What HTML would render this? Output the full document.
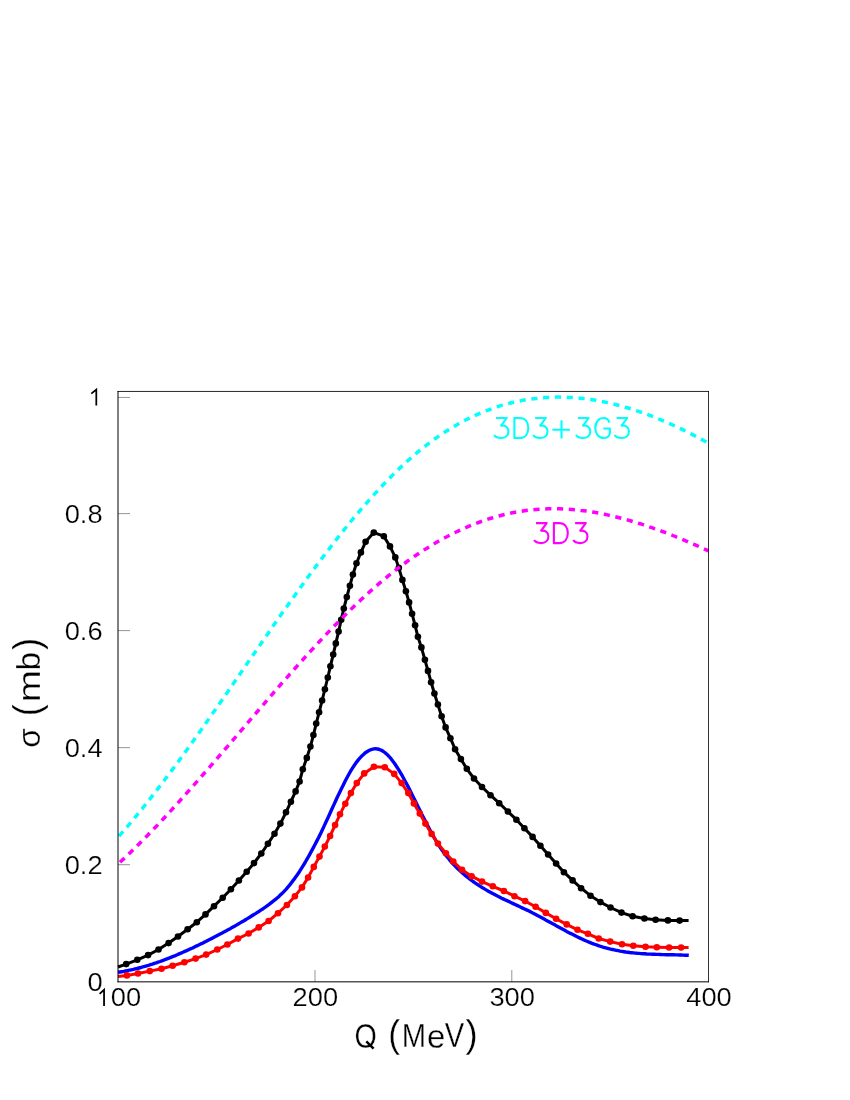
<!DOCTYPE html>
<html><head><meta charset="utf-8"><title>chart</title>
<style>html,body{margin:0;padding:0;background:#fff;}body{width:850px;height:1100px;position:relative;overflow:hidden;font-family:"Liberation Sans",sans-serif;}</style></head>
<body>
<svg width="850" height="1100" viewBox="0 0 850 1100" style="position:absolute;left:0;top:0;will-change:transform">
<rect width="850" height="1100" fill="#fff"/>
<path d="M118.0,972.3 L119.9,972.0 L121.8,971.7 L123.7,971.4 L125.6,971.0 L127.5,970.6 L129.5,970.2 L131.4,969.8 L133.3,969.4 L135.2,968.9 L137.1,968.5 L139.0,968.0 L140.9,967.5 L142.8,966.9 L144.7,966.4 L146.6,965.8 L148.5,965.3 L150.5,964.7 L152.4,964.1 L154.3,963.4 L156.2,962.8 L158.1,962.1 L160.0,961.5 L161.9,960.8 L163.8,960.1 L165.7,959.3 L167.6,958.6 L169.5,957.9 L171.5,957.1 L173.4,956.3 L175.3,955.6 L177.2,954.8 L179.1,953.9 L181.0,953.1 L182.9,952.3 L184.8,951.4 L186.7,950.6 L188.6,949.7 L190.5,948.8 L192.5,948.0 L194.4,947.1 L196.3,946.1 L198.2,945.2 L200.1,944.3 L202.0,943.4 L203.9,942.4 L205.8,941.5 L207.7,940.5 L209.6,939.5 L211.5,938.6 L213.5,937.6 L215.4,936.6 L217.3,935.6 L219.2,934.6 L221.1,933.6 L223.0,932.5 L224.9,931.5 L226.8,930.5 L228.7,929.4 L230.6,928.4 L232.5,927.3 L234.5,926.2 L236.4,925.1 L238.3,924.0 L240.2,922.9 L242.1,921.8 L244.0,920.7 L245.9,919.5 L247.8,918.4 L249.7,917.2 L251.6,916.0 L253.5,914.8 L255.5,913.6 L257.4,912.4 L259.3,911.2 L261.2,909.9 L263.1,908.7 L265.0,907.4 L266.9,906.0 L268.8,904.7 L270.7,903.2 L272.6,901.7 L274.5,900.2 L276.5,898.6 L278.4,896.9 L280.3,895.1 L282.2,893.3 L284.1,891.3 L286.0,889.3 L287.9,887.1 L289.8,884.8 L291.7,882.4 L293.6,879.9 L295.5,877.2 L297.5,874.5 L299.4,871.7 L301.3,868.7 L303.2,865.6 L305.1,862.5 L307.0,859.2 L308.9,855.9 L310.8,852.4 L312.7,848.9 L314.6,845.3 L316.5,841.6 L318.5,837.8 L320.4,833.9 L322.3,830.0 L324.2,825.9 L326.1,821.8 L328.0,817.7 L329.9,813.5 L331.8,809.3 L333.7,805.1 L335.6,801.0 L337.5,796.8 L339.5,792.8 L341.4,788.8 L343.3,784.9 L345.2,781.1 L347.1,777.5 L349.0,774.0 L350.9,770.7 L352.8,767.7 L354.7,764.8 L356.6,762.1 L358.5,759.6 L360.5,757.4 L362.4,755.4 L364.3,753.7 L366.2,752.2 L368.1,751.0 L370.0,750.0 L371.9,749.3 L373.8,748.9 L375.7,748.8 L377.6,749.0 L379.5,749.5 L381.5,750.3 L383.4,751.5 L385.3,752.9 L387.2,754.6 L389.1,756.5 L391.0,758.7 L392.9,761.2 L394.8,763.8 L396.7,766.7 L398.6,769.7 L400.5,772.9 L402.5,776.2 L404.4,779.7 L406.3,783.2 L408.2,786.9 L410.1,790.6 L412.0,794.4 L413.9,798.2 L415.8,802.1 L417.7,806.0 L419.6,809.8 L421.5,813.7 L423.5,817.5 L425.4,821.3 L427.3,825.0 L429.2,828.6 L431.1,832.2 L433.0,835.6 L434.9,838.9 L436.8,842.1 L438.7,845.1 L440.6,848.0 L442.5,850.8 L444.5,853.4 L446.4,855.9 L448.3,858.3 L450.2,860.6 L452.1,862.8 L454.0,864.9 L455.9,866.9 L457.8,868.8 L459.7,870.6 L461.6,872.3 L463.5,874.0 L465.5,875.6 L467.4,877.2 L469.3,878.6 L471.2,880.1 L473.1,881.5 L475.0,882.8 L476.9,884.1 L478.8,885.4 L480.7,886.6 L482.6,887.8 L484.5,888.9 L486.5,890.1 L488.4,891.2 L490.3,892.2 L492.2,893.3 L494.1,894.3 L496.0,895.3 L497.9,896.3 L499.8,897.2 L501.7,898.2 L503.6,899.1 L505.5,900.0 L507.5,900.9 L509.4,901.8 L511.3,902.7 L513.2,903.6 L515.1,904.5 L517.0,905.4 L518.9,906.3 L520.8,907.2 L522.7,908.1 L524.6,909.0 L526.5,909.9 L528.5,910.8 L530.4,911.8 L532.3,912.8 L534.2,913.7 L536.1,914.7 L538.0,915.8 L539.9,916.8 L541.8,917.8 L543.7,918.8 L545.6,919.9 L547.5,920.9 L549.5,922.0 L551.4,923.0 L553.3,924.1 L555.2,925.1 L557.1,926.2 L559.0,927.2 L560.9,928.3 L562.8,929.3 L564.7,930.3 L566.6,931.4 L568.6,932.4 L570.5,933.4 L572.4,934.3 L574.3,935.3 L576.2,936.3 L578.1,937.2 L580.0,938.1 L581.9,939.0 L583.8,939.9 L585.7,940.7 L587.6,941.5 L589.6,942.3 L591.5,943.1 L593.4,943.8 L595.3,944.5 L597.2,945.2 L599.1,945.9 L601.0,946.5 L602.9,947.1 L604.8,947.6 L606.7,948.1 L608.6,948.6 L610.6,949.1 L612.5,949.5 L614.4,949.9 L616.3,950.3 L618.2,950.7 L620.1,951.1 L622.0,951.4 L623.9,951.7 L625.8,952.0 L627.7,952.2 L629.6,952.5 L631.6,952.7 L633.5,952.9 L635.4,953.1 L637.3,953.3 L639.2,953.4 L641.1,953.6 L643.0,953.7 L644.9,953.8 L646.8,954.0 L648.7,954.1 L650.6,954.1 L652.6,954.2 L654.5,954.3 L656.4,954.4 L658.3,954.4 L660.2,954.5 L662.1,954.6 L664.0,954.6 L665.9,954.7 L667.8,954.7 L669.7,954.7 L671.6,954.8 L673.6,954.8 L675.5,954.9 L677.4,954.9 L679.3,955.0 L681.2,955.0 L683.1,955.1 L685.0,955.2 L686.9,955.2 L688.8,955.3" fill="none" stroke="#0000ff" stroke-width="3.4" stroke-linejoin="round"/>
<path d="M118.0,967.0 L126.2,964.1 L137.3,959.8 L148.1,955.1 L158.5,949.5 L168.6,943.1 L178.0,936.5 L187.6,929.2 L196.8,922.2 L205.5,914.4 L214.0,906.2 L222.7,897.7 L230.9,889.2 L238.9,880.5 L246.7,871.8 L254.0,863.1 L261.3,853.5 L267.9,843.8 L274.5,833.7 L280.4,823.6 L286.0,812.3 L290.9,801.7 L295.6,791.4 L299.6,781.5 L302.8,769.2 L306.8,757.9 L310.4,746.6 L313.4,735.1 L316.2,723.6 L319.1,712.3 L322.1,700.5 L324.9,689.2 L327.8,677.5 L330.4,666.2 L333.2,654.6 L335.8,643.4 L338.6,631.6 L341.2,619.8 L343.8,608.5 L346.8,597.0 L349.9,585.7 L352.9,574.5 L356.5,563.2 L360.9,552.4 L365.6,541.8 L373.8,532.6 L383.8,536.2 L390.0,546.4 L395.3,557.4 L398.8,567.9 L402.4,579.9 L405.9,591.2 L409.1,602.4 L412.1,613.8 L415.1,625.3 L417.9,636.8 L421.4,647.4 L424.9,659.8 L428.0,670.9 L431.1,682.2 L434.4,693.5 L437.9,704.5 L441.6,716.3 L445.6,727.4 L450.4,738.2 L455.1,749.2 L460.9,759.1 L466.8,768.8 L474.0,778.5 L482.0,787.0 L490.5,795.2 L499.2,803.2 L507.9,811.5 L516.4,819.7 L524.4,828.2 L532.6,836.9 L540.4,845.8 L548.1,854.5 L556.1,863.5 L563.9,872.2 L572.6,880.4 L581.1,888.2 L590.5,895.7 L600.4,902.1 L610.5,907.5 L621.5,912.6 L632.6,916.2 L644.4,918.5 L655.6,919.7 L667.9,920.4 L679.6,920.6 L688.6,920.6" fill="none" stroke="#000" stroke-width="3.0" stroke-linejoin="round"/>
<g fill="#000"><circle cx="126.2" cy="964.1" r="3.3"/><circle cx="137.3" cy="959.8" r="3.3"/><circle cx="148.1" cy="955.1" r="3.3"/><circle cx="158.5" cy="949.5" r="3.3"/><circle cx="168.6" cy="943.1" r="3.3"/><circle cx="178.0" cy="936.5" r="3.3"/><circle cx="187.6" cy="929.2" r="3.3"/><circle cx="196.8" cy="922.2" r="3.3"/><circle cx="205.5" cy="914.4" r="3.3"/><circle cx="214.0" cy="906.2" r="3.3"/><circle cx="222.7" cy="897.7" r="3.3"/><circle cx="230.9" cy="889.2" r="3.3"/><circle cx="238.9" cy="880.5" r="3.3"/><circle cx="246.7" cy="871.8" r="3.3"/><circle cx="254.0" cy="863.1" r="3.3"/><circle cx="261.3" cy="853.5" r="3.3"/><circle cx="267.9" cy="843.8" r="3.3"/><circle cx="274.5" cy="833.7" r="3.3"/><circle cx="280.4" cy="823.6" r="3.3"/><circle cx="286.0" cy="812.3" r="3.3"/><circle cx="290.9" cy="801.7" r="3.3"/><circle cx="295.6" cy="791.4" r="3.3"/><circle cx="299.6" cy="781.5" r="3.3"/><circle cx="302.8" cy="769.2" r="3.3"/><circle cx="306.8" cy="757.9" r="3.3"/><circle cx="310.4" cy="746.6" r="3.3"/><circle cx="313.4" cy="735.1" r="3.3"/><circle cx="316.2" cy="723.6" r="3.3"/><circle cx="319.1" cy="712.3" r="3.3"/><circle cx="322.1" cy="700.5" r="3.3"/><circle cx="324.9" cy="689.2" r="3.3"/><circle cx="327.8" cy="677.5" r="3.3"/><circle cx="330.4" cy="666.2" r="3.3"/><circle cx="333.2" cy="654.6" r="3.3"/><circle cx="335.8" cy="643.4" r="3.3"/><circle cx="338.6" cy="631.6" r="3.3"/><circle cx="341.2" cy="619.8" r="3.3"/><circle cx="343.8" cy="608.5" r="3.3"/><circle cx="346.8" cy="597.0" r="3.3"/><circle cx="349.9" cy="585.7" r="3.3"/><circle cx="352.9" cy="574.5" r="3.3"/><circle cx="356.5" cy="563.2" r="3.3"/><circle cx="360.9" cy="552.4" r="3.3"/><circle cx="365.6" cy="541.8" r="3.3"/><circle cx="373.8" cy="532.6" r="3.3"/><circle cx="383.8" cy="536.2" r="3.3"/><circle cx="390.0" cy="546.4" r="3.3"/><circle cx="395.3" cy="557.4" r="3.3"/><circle cx="398.8" cy="567.9" r="3.3"/><circle cx="402.4" cy="579.9" r="3.3"/><circle cx="405.9" cy="591.2" r="3.3"/><circle cx="409.1" cy="602.4" r="3.3"/><circle cx="412.1" cy="613.8" r="3.3"/><circle cx="415.1" cy="625.3" r="3.3"/><circle cx="417.9" cy="636.8" r="3.3"/><circle cx="421.4" cy="647.4" r="3.3"/><circle cx="424.9" cy="659.8" r="3.3"/><circle cx="428.0" cy="670.9" r="3.3"/><circle cx="431.1" cy="682.2" r="3.3"/><circle cx="434.4" cy="693.5" r="3.3"/><circle cx="437.9" cy="704.5" r="3.3"/><circle cx="441.6" cy="716.3" r="3.3"/><circle cx="445.6" cy="727.4" r="3.3"/><circle cx="450.4" cy="738.2" r="3.3"/><circle cx="455.1" cy="749.2" r="3.3"/><circle cx="460.9" cy="759.1" r="3.3"/><circle cx="466.8" cy="768.8" r="3.3"/><circle cx="474.0" cy="778.5" r="3.3"/><circle cx="482.0" cy="787.0" r="3.3"/><circle cx="490.5" cy="795.2" r="3.3"/><circle cx="499.2" cy="803.2" r="3.3"/><circle cx="507.9" cy="811.5" r="3.3"/><circle cx="516.4" cy="819.7" r="3.3"/><circle cx="524.4" cy="828.2" r="3.3"/><circle cx="532.6" cy="836.9" r="3.3"/><circle cx="540.4" cy="845.8" r="3.3"/><circle cx="548.1" cy="854.5" r="3.3"/><circle cx="556.1" cy="863.5" r="3.3"/><circle cx="563.9" cy="872.2" r="3.3"/><circle cx="572.6" cy="880.4" r="3.3"/><circle cx="581.1" cy="888.2" r="3.3"/><circle cx="590.5" cy="895.7" r="3.3"/><circle cx="600.4" cy="902.1" r="3.3"/><circle cx="610.5" cy="907.5" r="3.3"/><circle cx="621.5" cy="912.6" r="3.3"/><circle cx="632.6" cy="916.2" r="3.3"/><circle cx="644.4" cy="918.5" r="3.3"/><circle cx="655.6" cy="919.7" r="3.3"/><circle cx="667.9" cy="920.4" r="3.3"/><circle cx="679.6" cy="920.6" r="3.3"/></g>
<path d="M118.0,976.5 L126.9,975.4 L138.0,973.5 L149.8,971.1 L161.5,968.8 L172.6,965.7 L184.4,962.2 L195.6,958.6 L206.2,954.6 L217.3,949.5 L227.4,944.5 L238.0,938.6 L248.6,933.5 L258.7,927.4 L268.6,921.0 L278.0,913.2 L286.9,905.0 L294.9,896.3 L302.0,887.4 L308.1,877.5 L313.8,866.9 L319.5,856.6 L324.8,846.6 L330.1,836.0 L335.1,825.1 L340.0,814.3 L345.3,803.7 L350.9,793.1 L356.8,783.1 L364.2,773.4 L373.9,766.8 L384.8,767.2 L394.2,773.9 L401.6,783.1 L408.3,793.1 L413.9,803.4 L419.8,813.6 L425.4,823.6 L431.6,833.9 L437.9,843.6 L445.9,853.3 L453.3,861.6 L462.0,869.8 L471.6,876.2 L482.0,881.6 L492.8,886.3 L503.9,891.0 L514.5,896.2 L525.1,901.1 L535.6,906.8 L545.8,912.9 L556.1,918.8 L566.7,924.4 L577.5,929.8 L587.9,933.8 L598.7,938.5 L610.2,941.6 L622.0,944.2 L633.3,945.8 L645.5,946.8 L656.8,947.2 L669.1,947.5 L681.1,947.5 L688.6,947.5" fill="none" stroke="#ff0000" stroke-width="3.0" stroke-linejoin="round"/>
<g fill="#ff0000"><circle cx="126.9" cy="975.4" r="3.3"/><circle cx="138.0" cy="973.5" r="3.3"/><circle cx="149.8" cy="971.1" r="3.3"/><circle cx="161.5" cy="968.8" r="3.3"/><circle cx="172.6" cy="965.7" r="3.3"/><circle cx="184.4" cy="962.2" r="3.3"/><circle cx="195.6" cy="958.6" r="3.3"/><circle cx="206.2" cy="954.6" r="3.3"/><circle cx="217.3" cy="949.5" r="3.3"/><circle cx="227.4" cy="944.5" r="3.3"/><circle cx="238.0" cy="938.6" r="3.3"/><circle cx="248.6" cy="933.5" r="3.3"/><circle cx="258.7" cy="927.4" r="3.3"/><circle cx="268.6" cy="921.0" r="3.3"/><circle cx="278.0" cy="913.2" r="3.3"/><circle cx="286.9" cy="905.0" r="3.3"/><circle cx="294.9" cy="896.3" r="3.3"/><circle cx="302.0" cy="887.4" r="3.3"/><circle cx="308.1" cy="877.5" r="3.3"/><circle cx="313.8" cy="866.9" r="3.3"/><circle cx="319.5" cy="856.6" r="3.3"/><circle cx="324.8" cy="846.6" r="3.3"/><circle cx="330.1" cy="836.0" r="3.3"/><circle cx="335.1" cy="825.1" r="3.3"/><circle cx="340.0" cy="814.3" r="3.3"/><circle cx="345.3" cy="803.7" r="3.3"/><circle cx="350.9" cy="793.1" r="3.3"/><circle cx="356.8" cy="783.1" r="3.3"/><circle cx="364.2" cy="773.4" r="3.3"/><circle cx="373.9" cy="766.8" r="3.3"/><circle cx="384.8" cy="767.2" r="3.3"/><circle cx="394.2" cy="773.9" r="3.3"/><circle cx="401.6" cy="783.1" r="3.3"/><circle cx="408.3" cy="793.1" r="3.3"/><circle cx="413.9" cy="803.4" r="3.3"/><circle cx="419.8" cy="813.6" r="3.3"/><circle cx="425.4" cy="823.6" r="3.3"/><circle cx="431.6" cy="833.9" r="3.3"/><circle cx="437.9" cy="843.6" r="3.3"/><circle cx="445.9" cy="853.3" r="3.3"/><circle cx="453.3" cy="861.6" r="3.3"/><circle cx="462.0" cy="869.8" r="3.3"/><circle cx="471.6" cy="876.2" r="3.3"/><circle cx="482.0" cy="881.6" r="3.3"/><circle cx="492.8" cy="886.3" r="3.3"/><circle cx="503.9" cy="891.0" r="3.3"/><circle cx="514.5" cy="896.2" r="3.3"/><circle cx="525.1" cy="901.1" r="3.3"/><circle cx="535.6" cy="906.8" r="3.3"/><circle cx="545.8" cy="912.9" r="3.3"/><circle cx="556.1" cy="918.8" r="3.3"/><circle cx="566.7" cy="924.4" r="3.3"/><circle cx="577.5" cy="929.8" r="3.3"/><circle cx="587.9" cy="933.8" r="3.3"/><circle cx="598.7" cy="938.5" r="3.3"/><circle cx="610.2" cy="941.6" r="3.3"/><circle cx="622.0" cy="944.2" r="3.3"/><circle cx="633.3" cy="945.8" r="3.3"/><circle cx="645.5" cy="946.8" r="3.3"/><circle cx="656.8" cy="947.2" r="3.3"/><circle cx="669.1" cy="947.5" r="3.3"/><circle cx="681.1" cy="947.5" r="3.3"/></g>
<path d="M118.0,837.3 L121.0,833.9 L123.9,830.5 L126.9,827.1 L129.9,823.6 L132.8,820.0 L135.8,816.5 L138.8,812.9 L141.7,809.2 L144.7,805.5 L147.7,801.8 L150.6,798.1 L153.6,794.3 L156.6,790.4 L159.5,786.6 L162.5,782.7 L165.5,778.8 L168.4,774.9 L171.4,770.9 L174.4,766.9 L177.3,762.9 L180.3,758.8 L183.3,754.8 L186.2,750.7 L189.2,746.6 L192.2,742.4 L195.1,738.3 L198.1,734.1 L201.1,729.9 L204.0,725.7 L207.0,721.5 L210.0,717.3 L212.9,713.0 L215.9,708.8 L218.9,704.5 L221.8,700.3 L224.8,696.0 L227.8,691.7 L230.7,687.4 L233.7,683.1 L236.7,678.8 L239.6,674.5 L242.6,670.2 L245.6,665.9 L248.5,661.6 L251.5,657.3 L254.5,653.0 L257.4,648.7 L260.4,644.4 L263.4,640.1 L266.3,635.9 L269.3,631.6 L272.2,627.3 L275.2,623.1 L278.2,618.8 L281.1,614.6 L284.1,610.4 L287.1,606.2 L290.0,602.0 L293.0,597.9 L296.0,593.7 L298.9,589.6 L301.9,585.5 L304.9,581.4 L307.8,577.3 L310.8,573.3 L313.8,569.3 L316.7,565.3 L319.7,561.3 L322.7,557.4 L325.6,553.4 L328.6,549.6 L331.6,545.7 L334.5,541.9 L337.5,538.1 L340.5,534.4 L343.4,530.6 L346.4,527.0 L349.4,523.3 L352.3,519.7 L355.3,516.1 L358.3,512.6 L361.2,509.1 L364.2,505.7 L367.2,502.3 L370.1,498.9 L373.1,495.6 L376.1,492.4 L379.0,489.2 L382.0,486.0 L385.0,482.9 L387.9,479.8 L390.9,476.8 L393.9,473.8 L396.8,470.9 L399.8,468.1 L402.8,465.3 L405.7,462.6 L408.7,459.9 L411.7,457.3 L414.6,454.7 L417.6,452.2 L420.6,449.8 L423.5,447.4 L426.5,445.1 L429.5,442.8 L432.4,440.6 L435.4,438.5 L438.4,436.4 L441.3,434.4 L444.3,432.5 L447.3,430.6 L450.2,428.7 L453.2,426.9 L456.2,425.2 L459.1,423.5 L462.1,421.9 L465.1,420.3 L468.0,418.8 L471.0,417.4 L474.0,416.0 L476.9,414.6 L479.9,413.3 L482.9,412.1 L485.8,410.9 L488.8,409.8 L491.8,408.7 L494.7,407.6 L497.7,406.7 L500.7,405.7 L503.6,404.8 L506.6,404.0 L509.6,403.2 L512.5,402.5 L515.5,401.8 L518.5,401.2 L521.4,400.6 L524.4,400.0 L527.4,399.6 L530.3,399.1 L533.3,398.7 L536.3,398.4 L539.2,398.0 L542.2,397.8 L545.2,397.6 L548.1,397.4 L551.1,397.3 L554.1,397.2 L557.0,397.1 L560.0,397.1 L562.9,397.2 L565.9,397.2 L568.9,397.4 L571.8,397.5 L574.8,397.7 L577.8,398.0 L580.7,398.3 L583.7,398.6 L586.7,399.0 L589.6,399.4 L592.6,399.8 L595.6,400.3 L598.5,400.8 L601.5,401.4 L604.5,402.0 L607.4,402.6 L610.4,403.3 L613.4,404.0 L616.3,404.7 L619.3,405.5 L622.3,406.3 L625.2,407.2 L628.2,408.0 L631.2,408.9 L634.1,409.9 L637.1,410.9 L640.1,411.9 L643.0,412.9 L646.0,414.0 L649.0,415.1 L651.9,416.2 L654.9,417.4 L657.9,418.6 L660.8,419.8 L663.8,421.1 L666.8,422.4 L669.7,423.7 L672.7,425.0 L675.7,426.4 L678.6,427.8 L681.6,429.2 L684.6,430.6 L687.5,432.1 L690.5,433.6 L693.5,435.1 L696.4,436.7 L699.4,438.3 L702.4,439.9 L705.3,441.5 L708.3,443.1" fill="none" stroke="#00ffff" stroke-width="3.5" stroke-dasharray="6.2 5.62" stroke-dashoffset="10.3"/>
<path d="M118.0,864.1 L121.0,861.3 L123.9,858.6 L126.9,855.7 L129.9,852.9 L132.8,850.0 L135.8,847.1 L138.8,844.2 L141.7,841.2 L144.7,838.2 L147.7,835.2 L150.6,832.1 L153.6,829.1 L156.6,826.0 L159.5,822.8 L162.5,819.7 L165.5,816.5 L168.4,813.3 L171.4,810.1 L174.4,806.8 L177.3,803.6 L180.3,800.3 L183.3,797.0 L186.2,793.7 L189.2,790.4 L192.2,787.0 L195.1,783.7 L198.1,780.3 L201.1,776.9 L204.0,773.5 L207.0,770.1 L210.0,766.7 L212.9,763.3 L215.9,759.9 L218.9,756.4 L221.8,753.0 L224.8,749.5 L227.8,746.1 L230.7,742.6 L233.7,739.2 L236.7,735.7 L239.6,732.2 L242.6,728.8 L245.6,725.3 L248.5,721.8 L251.5,718.4 L254.5,714.9 L257.4,711.5 L260.4,708.0 L263.4,704.6 L266.3,701.1 L269.3,697.7 L272.2,694.3 L275.2,690.8 L278.2,687.4 L281.1,684.0 L284.1,680.7 L287.1,677.3 L290.0,673.9 L293.0,670.6 L296.0,667.3 L298.9,663.9 L301.9,660.7 L304.9,657.4 L307.8,654.1 L310.8,650.9 L313.8,647.7 L316.7,644.5 L319.7,641.3 L322.7,638.1 L325.6,635.0 L328.6,631.9 L331.6,628.8 L334.5,625.8 L337.5,622.7 L340.5,619.7 L343.4,616.8 L346.4,613.8 L349.4,610.9 L352.3,608.0 L355.3,605.2 L358.3,602.4 L361.2,599.6 L364.2,596.8 L367.2,594.1 L370.1,591.4 L373.1,588.8 L376.1,586.2 L379.0,583.6 L382.0,581.1 L385.0,578.7 L387.9,576.2 L390.9,573.8 L393.9,571.5 L396.8,569.2 L399.8,566.9 L402.8,564.7 L405.7,562.5 L408.7,560.3 L411.7,558.3 L414.6,556.2 L417.6,554.2 L420.6,552.2 L423.5,550.3 L426.5,548.4 L429.5,546.6 L432.4,544.8 L435.4,543.0 L438.4,541.3 L441.3,539.7 L444.3,538.0 L447.3,536.5 L450.2,534.9 L453.2,533.4 L456.2,532.0 L459.1,530.6 L462.1,529.2 L465.1,527.9 L468.0,526.6 L471.0,525.4 L474.0,524.2 L476.9,523.1 L479.9,522.0 L482.9,520.9 L485.8,519.9 L488.8,518.9 L491.8,518.0 L494.7,517.1 L497.7,516.3 L500.7,515.5 L503.6,514.7 L506.6,514.0 L509.6,513.4 L512.5,512.8 L515.5,512.2 L518.5,511.7 L521.4,511.2 L524.4,510.7 L527.4,510.3 L530.3,510.0 L533.3,509.7 L536.3,509.4 L539.2,509.2 L542.2,509.0 L545.2,508.9 L548.1,508.8 L551.1,508.7 L554.1,508.7 L557.0,508.7 L560.0,508.8 L562.9,508.9 L565.9,509.1 L568.9,509.3 L571.8,509.5 L574.8,509.7 L577.8,510.0 L580.7,510.4 L583.7,510.7 L586.7,511.1 L589.6,511.6 L592.6,512.1 L595.6,512.6 L598.5,513.1 L601.5,513.7 L604.5,514.3 L607.4,514.9 L610.4,515.6 L613.4,516.3 L616.3,517.0 L619.3,517.7 L622.3,518.5 L625.2,519.3 L628.2,520.1 L631.2,521.0 L634.1,521.9 L637.1,522.8 L640.1,523.7 L643.0,524.7 L646.0,525.7 L649.0,526.7 L651.9,527.7 L654.9,528.8 L657.9,529.8 L660.8,530.9 L663.8,532.0 L666.8,533.2 L669.7,534.3 L672.7,535.5 L675.7,536.7 L678.6,537.9 L681.6,539.1 L684.6,540.3 L687.5,541.6 L690.5,542.9 L693.5,544.1 L696.4,545.4 L699.4,546.8 L702.4,548.1 L705.3,549.4 L708.3,550.8" fill="none" stroke="#ff00ff" stroke-width="3.5" stroke-dasharray="6.2 5.6" stroke-dashoffset="9.0"/>
<path d="M118.0,391.05 V982.25" stroke="#000" stroke-width="1" fill="none"/>
<path d="M117.5,391.45 H708.9" stroke="#000" stroke-width="0.85" fill="none"/>
<path d="M708.5,391.05 V982.25" stroke="#000" stroke-width="0.8" fill="none"/>
<path d="M117.5,981.85 H708.9" stroke="#000" stroke-width="1" fill="none"/>
<path d="M118.0,864.70 h12 M118.0,747.65 h12 M118.0,630.60 h12 M118.0,513.60 h12 M118.0,397.45 h12 M315.0,981.85 V970 M511.8,981.85 V970" stroke="#000" stroke-width="0.42" fill="none"/>
<g font-family="Liberation Sans, sans-serif" fill="#000">
<text transform="matrix(0.27300,0,0,0.25400,102.60,990.55)" font-size="100" text-anchor="end" stroke="#fff" stroke-width="0.22" vector-effect="non-scaling-stroke">0</text>
<text transform="matrix(0.27300,0,0,0.25400,102.60,873.75)" font-size="100" text-anchor="end" stroke="#fff" stroke-width="0.22" vector-effect="non-scaling-stroke">0.2</text>
<text transform="matrix(0.27300,0,0,0.25400,102.60,756.70)" font-size="100" text-anchor="end" stroke="#fff" stroke-width="0.22" vector-effect="non-scaling-stroke">0.4</text>
<text transform="matrix(0.27300,0,0,0.25400,102.60,639.65)" font-size="100" text-anchor="end" stroke="#fff" stroke-width="0.22" vector-effect="non-scaling-stroke">0.6</text>
<text transform="matrix(0.27300,0,0,0.25400,102.60,522.65)" font-size="100" text-anchor="end" stroke="#fff" stroke-width="0.22" vector-effect="non-scaling-stroke">0.8</text>
<text transform="matrix(0.27300,0,0,0.25400,315.33,1006.35)" font-size="100" text-anchor="middle" stroke="#fff" stroke-width="0.22" vector-effect="non-scaling-stroke">200</text>
<text transform="matrix(0.27300,0,0,0.25400,512.17,1006.35)" font-size="100" text-anchor="middle" stroke="#fff" stroke-width="0.22" vector-effect="non-scaling-stroke">300</text>
<text transform="matrix(0.27300,0,0,0.25400,709.00,1006.35)" font-size="100" text-anchor="middle" stroke="#fff" stroke-width="0.22" vector-effect="non-scaling-stroke">400</text>
<text transform="matrix(0.27300,0,0,0.25400,110.70,1006.35)" font-size="100" text-anchor="start" stroke="#fff" stroke-width="0.22" vector-effect="non-scaling-stroke">00</text>
<path d="M99.6,993.8 L104.05,989.8 V1006.1" fill="none" stroke="#000" stroke-width="1.8" stroke-linejoin="miter"/>
<path d="M91.3,393.6 L96.3,389.6 V405.4" fill="none" stroke="#000" stroke-width="1.75" stroke-linejoin="miter"/>
<text transform="matrix(0.28713,0,0,0.35452,354.54,1047.55)" font-size="100" fill="#000" stroke="#fff" stroke-width="0.3" vector-effect="non-scaling-stroke">O</text>
<path d="M366.3,1041.4 L373.6,1048.6" fill="none" stroke="#000" stroke-width="2.5"/>
<text transform="matrix(0.35453,0,0,0.38105,388.20,1046.71)" font-size="100" fill="#000" stroke="#fff" stroke-width="0.3" vector-effect="non-scaling-stroke">(</text>
<text transform="matrix(0.29150,0,0,0.34012,401.81,1047.00)" font-size="100" fill="#000" stroke="#fff" stroke-width="0.3" vector-effect="non-scaling-stroke">M</text>
<text transform="matrix(0.33032,0,0,0.32308,426.90,1047.58)" font-size="100" fill="#000" stroke="#fff" stroke-width="0.3" vector-effect="non-scaling-stroke">e</text>
<text transform="matrix(0.29170,0,0,0.34448,444.87,1047.30)" font-size="100" fill="#000" stroke="#fff" stroke-width="0.3" vector-effect="non-scaling-stroke">V</text>
<text transform="matrix(0.36585,0,0,0.38105,465.59,1046.91)" font-size="100" fill="#000" stroke="#fff" stroke-width="0.3" vector-effect="non-scaling-stroke">)</text>
<g transform="rotate(-90)">
<text transform="matrix(0.31782,0,0,0.32151,-747.63,40.49)" font-size="100" fill="#000" stroke="#fff" stroke-width="0.3" vector-effect="non-scaling-stroke">σ</text>
<text transform="matrix(0.36208,0,0,0.38212,-716.15,39.69)" font-size="100" fill="#000" stroke="#fff" stroke-width="0.3" vector-effect="non-scaling-stroke">(</text>
<text transform="matrix(0.38677,0,0,0.31408,-702.17,40.30)" font-size="100" fill="#000" stroke="#fff" stroke-width="0.3" vector-effect="non-scaling-stroke">m</text>
<text transform="matrix(0.33355,0,0,0.32409,-670.55,40.48)" font-size="100" fill="#000" stroke="#fff" stroke-width="0.3" vector-effect="non-scaling-stroke">b</text>
<text transform="matrix(0.36585,0,0,0.38212,-650.11,39.69)" font-size="100" fill="#000" stroke="#fff" stroke-width="0.3" vector-effect="non-scaling-stroke">)</text>
</g>
</g>
<g fill="none" stroke="#00ffff" stroke-width="2.1" stroke-linecap="butt" stroke-linejoin="round"><path transform="translate(496.0,418.0)" d="M0,0 L10.7,0 L5.2,7.6"/><path transform="translate(496.0,418.0)" d="M5.2,7.6 C8.6,7.1 12.4,8.9 12.4,13.2 C12.4,17.5 9.4,20 5.2,20 C2.2,20 -0.8,19 -1.9,17.0"/><path transform="translate(496.0,418.0)" d="M5.2,6.6 L5.2,7.6 L6.2,7.6"/><path transform="translate(514.4,418.0)" d="M0,-1 L0,21"/><path transform="translate(514.4,418.0)" d="M0,0 L5.3,0 C10.8,0 13.9,4 13.9,10 C13.9,16 10.8,20 5.3,20 L0,20"/><path transform="translate(535.1,418.0)" d="M0,0 L10.7,0 L5.2,7.6"/><path transform="translate(535.1,418.0)" d="M5.2,7.6 C8.6,7.1 12.4,8.9 12.4,13.2 C12.4,17.5 9.4,20 5.2,20 C2.2,20 -0.8,19 -1.9,17.0"/><path transform="translate(535.1,418.0)" d="M5.2,6.6 L5.2,7.6 L6.2,7.6"/><path transform="translate(577.9,418.0)" d="M0,0 L10.7,0 L5.2,7.6"/><path transform="translate(577.9,418.0)" d="M5.2,7.6 C8.6,7.1 12.4,8.9 12.4,13.2 C12.4,17.5 9.4,20 5.2,20 C2.2,20 -0.8,19 -1.9,17.0"/><path transform="translate(577.9,418.0)" d="M5.2,6.6 L5.2,7.6 L6.2,7.6"/><path transform="translate(595.3,418.0)" d="M14.2,4.6 C13.2,1.7 11.2,0 8.4,0 C3.4,0 0,4 0,10 C0,16 3.4,20 8.4,20 C12,20 14.6,18 14.6,14.8 L14.6,10.5 L8.0,10.5"/><path transform="translate(616.5,418.0)" d="M0,0 L10.7,0 L5.2,7.6"/><path transform="translate(616.5,418.0)" d="M5.2,7.6 C8.6,7.1 12.4,8.9 12.4,13.2 C12.4,17.5 9.4,20 5.2,20 C2.2,20 -0.8,19 -1.9,17.0"/><path transform="translate(616.5,418.0)" d="M5.2,6.6 L5.2,7.6 L6.2,7.6"/></g>
<path d="M552.4,429.8 H570 M561.5,420.3 V438.6" fill="none" stroke="#00ffff" stroke-width="2.1"/>
<g fill="none" stroke="#ff00ff" stroke-width="2.1" stroke-linecap="butt" stroke-linejoin="round"><path transform="translate(536.0,523.1)" d="M0,0 L10.7,0 L5.2,7.6"/><path transform="translate(536.0,523.1)" d="M5.2,7.6 C8.6,7.1 12.4,8.9 12.4,13.2 C12.4,17.5 9.4,20 5.2,20 C2.2,20 -0.8,19 -1.9,17.0"/><path transform="translate(536.0,523.1)" d="M5.2,6.6 L5.2,7.6 L6.2,7.6"/><path transform="translate(553.9,523.1)" d="M0,-1 L0,21"/><path transform="translate(553.9,523.1)" d="M0,0 L5.3,0 C10.8,0 13.9,4 13.9,10 C13.9,16 10.8,20 5.3,20 L0,20"/><path transform="translate(575.1,523.1)" d="M0,0 L10.7,0 L5.2,7.6"/><path transform="translate(575.1,523.1)" d="M5.2,7.6 C8.6,7.1 12.4,8.9 12.4,13.2 C12.4,17.5 9.4,20 5.2,20 C2.2,20 -0.8,19 -1.9,17.0"/><path transform="translate(575.1,523.1)" d="M5.2,6.6 L5.2,7.6 L6.2,7.6"/></g>
</svg>
</body></html>
